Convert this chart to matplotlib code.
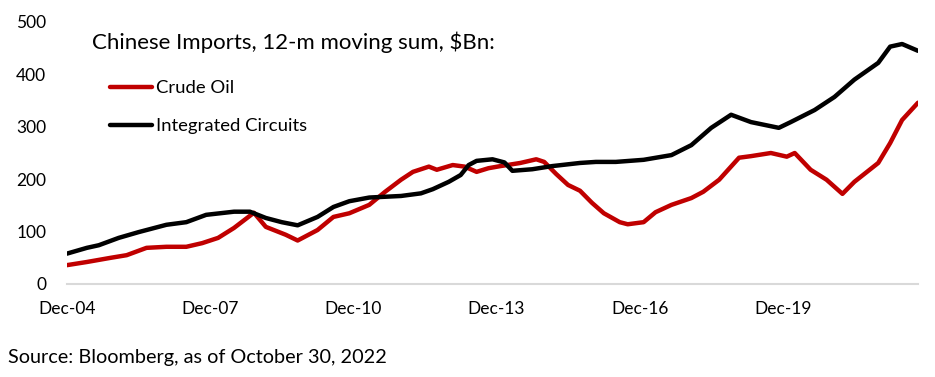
import pandas as pd
import matplotlib
matplotlib.use("Agg")
import matplotlib.pyplot as plt

plt.rcParams["font.family"] = ["Lato", "DejaVu Sans"]

RED = "#C00000"
AXIS_GREY = "#D9D9D9"

# 12-m moving sum, $Bn (month, value)
oil_months = [
    "2004-12", "2005-05", "2005-11", "2006-03", "2006-08", "2007-01", "2007-06",
    "2007-10", "2008-02", "2008-06", "2008-11", "2009-02", "2009-07", "2009-10",
    "2010-03", "2010-07", "2010-11", "2011-04", "2011-08", "2011-12", "2012-03",
    "2012-07", "2012-09", "2013-01", "2013-04", "2013-07", "2013-10", "2014-01",
    "2014-06", "2014-10", "2014-12", "2015-03", "2015-06", "2015-09", "2015-12",
    "2016-03", "2016-07", "2016-09", "2017-01", "2017-04", "2017-08", "2018-01",
    "2018-04", "2018-08", "2019-01", "2019-04", "2019-09", "2020-01", "2020-03",
    "2020-07", "2020-11", "2021-03", "2021-06", "2021-12", "2022-03", "2022-06",
    "2022-10",
]
oil_values = [
    36, 42, 50, 55, 69, 71, 71,
    78, 88, 107, 136, 109, 94, 83,
    103, 128, 135, 151, 176, 199, 214,
    224, 218, 227, 224, 214, 221, 225,
    231, 238, 233, 210, 189, 178, 155,
    135, 118, 114, 118, 137, 151, 164,
    176, 199, 241, 244, 250, 243, 250,
    218, 199, 172, 195, 231, 269, 313,
    346,
]

chip_months = [
    "2004-12", "2005-05", "2005-08", "2006-01", "2006-06", "2007-01", "2007-06",
    "2007-11", "2008-06", "2008-10", "2009-02", "2009-06", "2009-10", "2010-03",
    "2010-07", "2010-11", "2011-04", "2011-12", "2012-05", "2012-08", "2012-12",
    "2013-03", "2013-05", "2013-07", "2013-11", "2014-02", "2014-04", "2014-09",
    "2015-02", "2015-09", "2016-01", "2016-06", "2017-01", "2017-08", "2018-01",
    "2018-06", "2018-11", "2019-04", "2019-11", "2020-02", "2020-08", "2021-01",
    "2021-06", "2021-12", "2022-03", "2022-06", "2022-10",
]
chip_values = [
    58, 69, 74, 88, 99, 113, 118,
    132, 138, 138, 126, 118, 112, 128,
    147, 158, 165, 168, 173, 181, 195,
    208, 227, 235, 238, 232, 216, 219,
    225, 231, 233, 233, 237, 246, 265,
    298, 323, 309, 298, 309, 332, 357,
    390, 422, 453, 458, 445,
]

tick_months = ["2004-12", "2007-12", "2010-12", "2013-12", "2016-12", "2019-12"]
tick_labels = ["Dec-04", "Dec-07", "Dec-10", "Dec-13", "Dec-16", "Dec-19"]
y_ticks = [0, 100, 200, 300, 400, 500]

START = pd.Period("2004-12", freq="M")


def month_index(months):
    return [(pd.Period(m, freq="M") - START).n for m in months]


fig = plt.figure(figsize=(9.35, 3.77), dpi=100)
ax = fig.add_axes([67 / 935, 1 - 284 / 377, (918 - 67) / 935, (284 - 22) / 377])

ax.plot(month_index(oil_months), oil_values, color=RED, lw=3.2,
        solid_capstyle="round", solid_joinstyle="round", label="Crude Oil")
ax.plot(month_index(chip_months), chip_values, color="black", lw=3.2,
        solid_capstyle="round", solid_joinstyle="round", label="Integrated Circuits")

ax.set_xlim(0, month_index(["2022-10"])[0])
ax.set_ylim(0, 500)
ax.set_yticks(y_ticks)
ax.set_xticks(month_index(tick_months))
ax.set_xticklabels(tick_labels)
ax.tick_params(axis="both", length=0, labelsize=12.5)
ax.tick_params(axis="y", pad=15)
ax.tick_params(axis="x", pad=12)

for side in ["left", "right", "top"]:
    ax.spines[side].set_visible(False)
ax.spines["bottom"].set_color(AXIS_GREY)
ax.spines["bottom"].set_linewidth(1.5)

fig.text(92 / 935, 1 - 42 / 377, "Chinese Imports, 12-m moving sum, $Bn:",
         fontsize=16, va="center", ha="left")

ax.legend(loc="upper left", bbox_to_anchor=(110 / 935, 1 - 80 / 377),
          bbox_transform=fig.transFigure, frameon=False, fontsize=13.3,
          handlelength=2.3, handletextpad=0.2, labelspacing=1.2,
          borderpad=0, borderaxespad=0)

fig.text(8 / 935, 1 - 357 / 377, "Source: Bloomberg, as of October 30, 2022",
         fontsize=14.3, va="center", ha="left")

fig.savefig("out.png", dpi=100)
plt.close(fig)
